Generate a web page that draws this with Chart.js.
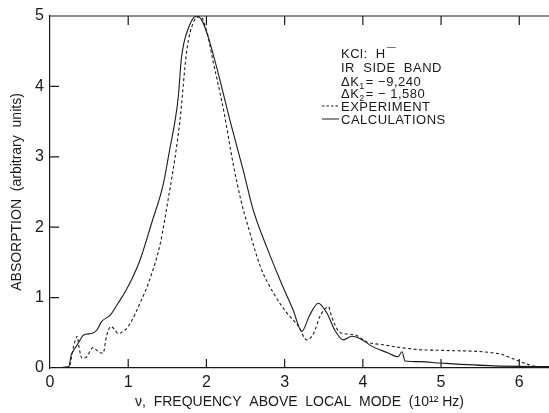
<!DOCTYPE html>
<html>
<head>
<meta charset="utf-8">
<script src="https://cdn.jsdelivr.net/npm/chart.js@4.4.1/dist/chart.umd.min.js"></script>
<style>
  html, body { margin: 0; padding: 0; background: #fff; }
  #wrap { width: 549px; height: 413px; position: relative; }
</style>
</head>
<body>
<div id="wrap"><canvas id="chart"></canvas></div>
<script>
// calculations (solid line)
const calcX = [0, 0.24, 0.27, 0.32, 0.37, 0.43, 0.53, 0.60, 0.66, 0.77, 0.87, 0.96, 1.04, 1.15, 1.30, 1.45, 1.53, 1.60, 1.64, 1.68, 1.77, 1.88, 1.95, 2.02, 2.15, 2.30, 2.47, 2.60, 2.77, 2.96, 3.11, 3.22, 3.32, 3.43, 3.54, 3.64, 3.75, 3.86, 3.96, 4.13, 4.31, 4.45, 4.50, 4.54, 4.73, 4.99, 5.67, 6.38];
const calcY = [0, 0.02, 0.18, 0.28, 0.37, 0.47, 0.49, 0.54, 0.66, 0.75, 0.92, 1.08, 1.25, 1.53, 2.06, 2.62, 3.10, 3.52, 3.85, 4.40, 4.83, 5.00, 4.92, 4.71, 4.19, 3.52, 2.81, 2.24, 1.72, 1.20, 0.82, 0.52, 0.75, 0.92, 0.78, 0.54, 0.40, 0.45, 0.42, 0.30, 0.22, 0.16, 0.23, 0.10, 0.09, 0.07, 0.03, 0.02];

// experiment (dashed line)
const expX = [0, 0.24, 0.30, 0.35, 0.37, 0.41, 0.47, 0.55, 0.62, 0.68, 0.72, 0.78, 0.83, 0.87, 0.96, 1.04, 1.15, 1.27, 1.41, 1.51, 1.60, 1.66, 1.75, 1.83, 1.92, 2.00, 2.09, 2.22, 2.34, 2.45, 2.52, 2.69, 2.86, 3.03, 3.18, 3.28, 3.37, 3.45, 3.50, 3.56, 3.60, 3.69, 3.75, 3.90, 4.05, 4.26, 4.48, 4.73, 5.03, 5.75, 5.88, 6.01, 6.22, 6.38];
const expY = [0, 0.00, 0.30, 0.45, 0.30, 0.14, 0.16, 0.29, 0.23, 0.21, 0.44, 0.59, 0.54, 0.49, 0.54, 0.66, 0.92, 1.24, 1.77, 2.39, 3.00, 3.50, 4.52, 4.90, 4.99, 4.80, 4.33, 3.66, 2.91, 2.34, 2.06, 1.44, 1.06, 0.78, 0.59, 0.40, 0.49, 0.73, 0.82, 0.87, 0.73, 0.52, 0.49, 0.47, 0.37, 0.33, 0.29, 0.26, 0.25, 0.20, 0.15, 0.09, 0.02, 0.01];

const xTicks = [0, 1, 2, 3, 4, 5, 6];
const yTicks = [0, 1, 2, 3, 4, 5];

const ink = '#1a1a1a';
const font = 'Liberation Sans, Arial, sans-serif';

function pts(xs, ys) {
  return xs.map((x, i) => ({ x: x, y: ys[i] }));
}

// inward tick marks, top frame line and the text block
const framePlugin = {
  id: 'frame',
  afterDraw(chart) {
    const ctx = chart.ctx;
    const a = chart.chartArea;
    const xs = chart.scales.x, ys = chart.scales.y;
    ctx.save();
    ctx.strokeStyle = ink;
    ctx.lineWidth = 1.2;
    ctx.beginPath();
    ctx.moveTo(a.left, a.top);
    ctx.lineTo(a.right, a.top);
    xTicks.forEach(v => {
      if (v === 0) return;
      const px = xs.getPixelForValue(v);
      ctx.moveTo(px, a.bottom); ctx.lineTo(px, a.bottom - 9);
      ctx.moveTo(px, a.top); ctx.lineTo(px, a.top + 9);
    });
    yTicks.forEach(v => {
      if (v === 0) return;
      const py = ys.getPixelForValue(v);
      ctx.moveTo(a.left, py); ctx.lineTo(a.left + 9, py);
    });
    ctx.stroke();

    // legend / annotation text
    ctx.fillStyle = ink;
    ctx.textBaseline = 'alphabetic';
    ctx.letterSpacing = '0.5px';
    const big = '13px ' + font, small = '9px ' + font;
    let tx = 341, ty = 58;
    ctx.font = big;
    ctx.fillText('KCl:  H', tx, ty);
    let w = ctx.measureText('KCl:  H').width;
    ctx.font = small;
    ctx.fillText('\u2014', tx + w + 1, ty - 8);

    ty += 14;
    ctx.font = big;
    ctx.fillText('IR  SIDE  BAND', tx, ty);

    const sub = (label, idx, rest, y) => {
      ctx.font = big;
      ctx.fillText(label, tx, y);
      let ww = ctx.measureText(label).width;
      ctx.font = small;
      ctx.fillText(idx, tx + ww, y + 3);
      ww += ctx.measureText(idx).width + 1;
      ctx.font = big;
      ctx.fillText(rest, tx + ww, y);
    };
    ty += 13.5;
    sub('\u0394K', '1', '= \u22129,240', ty);
    ty += 12.5;
    sub('\u0394K', '2', '= \u2212 1,580', ty);

    ty += 13;
    ctx.font = big;
    ctx.fillText('EXPERIMENT', tx, ty);
    ctx.lineWidth = 1;
    ctx.setLineDash([2.5, 2]);
    ctx.beginPath();
    ctx.moveTo(322, ty - 5); ctx.lineTo(339, ty - 5);
    ctx.stroke();

    ty += 13;
    ctx.fillText('CALCULATIONS', tx, ty);
    ctx.setLineDash([]);
    ctx.beginPath();
    ctx.moveTo(322, ty - 5); ctx.lineTo(339, ty - 5);
    ctx.stroke();
    ctx.restore();
  }
};

new Chart(document.getElementById('chart'), {
  type: 'line',
  data: {
    datasets: [
      {
        label: 'EXPERIMENT',
        data: pts(expX, expY),
        borderColor: ink,
        borderWidth: 1.1,
        borderDash: [3, 2.5],
        pointRadius: 0,
        cubicInterpolationMode: 'monotone',
        fill: false
      },
      {
        label: 'CALCULATIONS',
        data: pts(calcX, calcY),
        borderColor: ink,
        borderWidth: 1.1,
        pointRadius: 0,
        cubicInterpolationMode: 'monotone',
        fill: false
      }
    ]
  },
  options: {
    responsive: true,
    maintainAspectRatio: false,
    animation: false,
    layout: { padding: { top: 16, right: 0, left: 0, bottom: 0 } },
    plugins: {
      legend: { display: false },
      tooltip: { enabled: false }
    },
    scales: {
      x: {
        type: 'linear',
        min: 0,
        max: 6.38,
        afterBuildTicks: s => { s.ticks = xTicks.map(v => ({ value: v })); },
        afterFit: s => { s.height = 45; },
        ticks: { color: ink, font: { family: font, size: 16 }, padding: 5, maxRotation: 0 },
        grid: { drawOnChartArea: false, drawTicks: false },
        border: { color: ink, width: 1.2 },
        title: {
          display: true,
          text: '\u03bd,  FREQUENCY  ABOVE  LOCAL  MODE  (10\u00b9\u00b2 Hz)',
          color: ink,
          font: { family: font, size: 14 },
          padding: { top: 0, bottom: 2 }
        }
      },
      y: {
        min: 0,
        max: 5,
        afterBuildTicks: s => { s.ticks = yTicks.map(v => ({ value: v })); },
        afterFit: s => { s.width = 50; },
        ticks: { color: ink, font: { family: font, size: 16 }, padding: 6 },
        grid: { drawOnChartArea: false, drawTicks: false },
        border: { color: ink, width: 1.2 },
        title: {
          display: true,
          text: 'ABSORPTION  (arbitrary  units)',
          color: ink,
          font: { family: font, size: 14 },
          padding: { top: 9, bottom: 0 }
        }
      }
    }
  },
  plugins: [framePlugin]
});
</script>
</body>
</html>
